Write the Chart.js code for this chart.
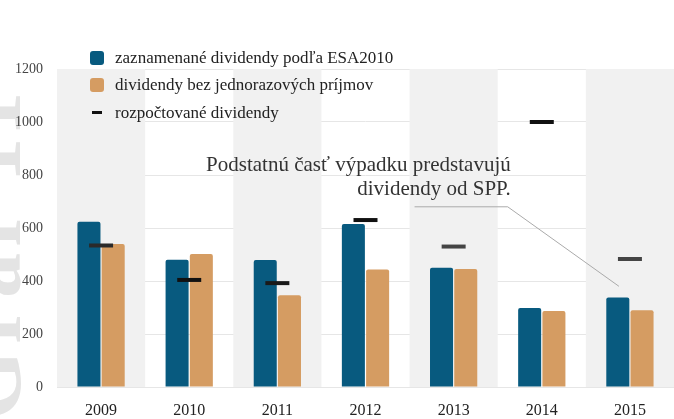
<!DOCTYPE html>
<html>
<head>
<meta charset="utf-8">
<script src="https://cdn.jsdelivr.net/npm/chart.js@4"></script>
<style>
  body { margin: 0; background: #fff; overflow: hidden; }
  #wrap { position: relative; width: 674px; height: 419px; overflow: hidden; }
  #chart { position: relative; }
  #legend { position: absolute; left: 90px; top: 44px; font-family: "Liberation Serif", serif; font-size: 17px; color: #222; }
  .item { height: 27.5px; display: flex; align-items: center; }
  .sw { width: 14px; height: 14px; border-radius: 3px; margin-right: 11px; }
  .dash { width: 10px; height: 3px; background: #111; margin: 0 13px 0 2px; }
  #mark { position: absolute; left: -180px; top: 200px; width: 340px; transform: rotate(-90deg); transform-origin: 170px 50px; font-family: "Liberation Serif", serif; font-size: 90px; font-weight: bold; color: #e4e4e4; letter-spacing: 6px; line-height: 100px; }
</style>
</head>
<body>
<div id="wrap">
  <div id="mark">Graf 11</div>
  <canvas id="chart" width="674" height="419"></canvas>
  <div id="legend">
    <div class="item"><span class="sw" style="background:#085a7f"></span>zaznamenané dividendy podľa ESA2010</div>
    <div class="item"><span class="sw" style="background:#d59c62"></span>dividendy bez jednorazových príjmov</div>
    <div class="item"><span class="dash"></span>rozpočtované dividendy</div>
  </div>
</div>
<script>
const years = ["2009", "2010", "2011", "2012", "2013", "2014", "2015"];
const esaDividends = [624, 480, 479, 615, 450, 298, 338];
const withoutOneOff = [540, 502, 346, 443, 445, 287, 290];
const budgeted = [534, 404, 392, 630, 530, 1000, 483];
const yTicks = [0, 200, 400, 600, 800, 1000, 1200];
const noteLines = ["Podstatnú časť výpadku predstavujú", "dividendy od SPP."];

// alternating shaded column bands behind the bars
const bands = {
  id: "bands",
  beforeDatasetsDraw(chart) {
    const { ctx, chartArea, scales: { x } } = chart;
    const w = x.width / years.length;
    ctx.save();
    ctx.fillStyle = "#f1f1f1";
    years.forEach((y, i) => {
      if (i % 2 === 0) {
        const cx = x.getPixelForValue(i);
        ctx.fillRect(cx - w / 2, chartArea.top, w, chartArea.bottom - chartArea.top);
      }
    });
    ctx.restore();
  }
};

// note text with leader line pointing at 2015
const note = {
  id: "note",
  afterDatasetsDraw(chart) {
    const { ctx, scales: { x, y } } = chart;
    const right = x.getPixelForValue(4.5) + 13;
    ctx.save();
    ctx.font = "21px 'Liberation Serif', serif";
    ctx.fillStyle = "#333";
    ctx.textAlign = "right";
    ctx.textBaseline = "alphabetic";
    ctx.fillText(noteLines[0], right, y.getPixelForValue(815));
    ctx.fillText(noteLines[1], right, y.getPixelForValue(725));
    const ly = y.getPixelForValue(680);
    ctx.strokeStyle = "#aaa";
    ctx.lineWidth = 1;
    ctx.beginPath();
    ctx.moveTo(x.getPixelForValue(3.5) + 5, ly);
    ctx.lineTo(x.getPixelForValue(4.5) + 10, ly);
    ctx.lineTo(x.getPixelForValue(6) - 11, y.getPixelForValue(380));
    ctx.stroke();
    ctx.restore();
  }
};

new Chart(document.getElementById("chart"), {
  type: "bar",
  data: {
    labels: years,
    datasets: [
      {
        label: "zaznamenané dividendy podľa ESA2010",
        data: esaDividends,
        backgroundColor: "#085a7f",
        borderRadius: 2,
        barPercentage: 0.95,
        categoryPercentage: 0.55,
        order: 2
      },
      {
        label: "dividendy bez jednorazových príjmov",
        data: withoutOneOff,
        backgroundColor: "#d59c62",
        borderRadius: 2,
        barPercentage: 0.95,
        categoryPercentage: 0.55,
        order: 2
      },
      {
        type: "line",
        label: "rozpočtované dividendy",
        data: budgeted,
        showLine: false,
        pointStyle: "line",
        pointRadius: 12,
        pointHoverRadius: 12,
        pointBorderWidth: 4,
        pointBorderColor: ["#2a2a2a", "#111", "#1a1a1a", "#111", "#444", "#111", "#444"],
        order: 1
      }
    ]
  },
  options: {
    responsive: false,
    animation: false,
    layout: { autoPadding: false, padding: { top: 69, right: 0, left: 0, bottom: 0 } },
    plugins: { legend: { display: false }, tooltip: { enabled: false } },
    scales: {
      x: {
        grid: { display: false },
        border: { display: false },
        ticks: { color: "#222", font: { family: "Liberation Serif", size: 16 }, padding: 6 },
        afterFit(s) { s.height = 32; }
      },
      y: {
        min: 0,
        max: 1200,
        afterBuildTicks(s) { s.ticks = yTicks.map(v => ({ value: v })); },
        grid: { color: "#e6e6e6", drawTicks: false },
        border: { display: false },
        ticks: {
          color: "#444",
          font: { family: "Liberation Serif", size: 14 },
          padding: 14,
          callback: v => String(v)
        },
        afterFit(s) { s.width = 57; }
      }
    }
  },
  plugins: [bands, note]
});
</script>
</body>
</html>
